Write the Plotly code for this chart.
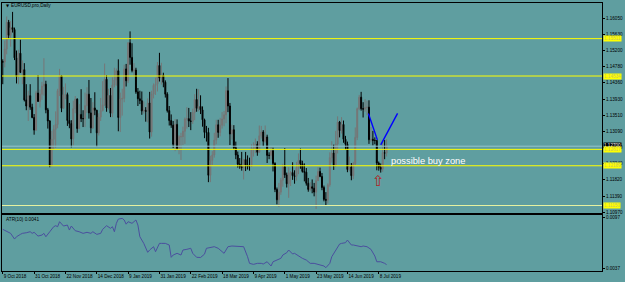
import pandas as pd
import plotly.graph_objects as go

# ---------------- data ----------------
dates = [d for d in pd.bdate_range("2018-10-09", "2019-07-12")
         if d.strftime("%m-%d") not in ("12-25", "01-01")]

opens = [1.1491,1.1490,1.1524,1.1594,1.1560,1.1580,1.1575,1.1501,1.1452,1.1513,1.1463,1.1470,1.1391,1.1375,1.1402,1.1372,1.1345,
         1.1312,1.1409,1.1387,1.1406,1.1427,1.1432,1.1365,1.1336,1.1220,1.1288,1.1314,1.1327,1.1415,1.1454,1.1369,1.1405,1.1405,1.1337,1.1329,1.1289,1.1368,1.1393,
         1.1316,1.1353,1.1342,1.1342,1.1376,1.1406,1.1357,1.1318,1.1370,1.1364,1.1305,1.1346,1.1363,1.1378,1.1445,1.1370,1.1403,1.1356,1.1430,1.1443,
         1.1467,1.1345,1.1393,1.1395,1.1472,1.1441,1.1540,1.1502,1.1468,1.1469,1.1412,1.1394,1.1389,1.1362,1.1364,1.1361,1.1383,1.1307,1.1406,1.1429,1.1432,1.1481,
         1.1448,1.1455,1.1437,1.1406,1.1363,1.1337,1.1325,1.1275,1.1327,1.1264,1.1295,1.1295,1.1309,1.1341,1.1342,1.1336,1.1335,1.1358,1.1392,1.1369,
         1.1374,1.1365,1.1339,1.1306,1.1306,1.1194,1.1233,1.1247,1.1286,1.1326,1.1306,1.1325,1.1341,1.1352,1.1415,1.1375,1.1302,1.1313,1.1266,1.1247,1.1223,
         1.1217,1.1214,1.1235,1.1221,1.1217,1.1217,1.1263,1.1264,1.1275,1.1254,1.1297,1.1307,1.1283,1.1294,1.1246,1.1246,1.1258,1.1225,1.1157,1.1130,1.1150,1.1181,
         1.1216,1.1195,1.1172,1.1200,1.1201,1.1193,1.1191,1.1214,1.1233,1.1224,1.1204,1.1202,1.1173,1.1157,1.1164,1.1160,1.1150,1.1180,1.1204,1.1191,1.1162,1.1131,1.1129,
         1.1169,1.1240,1.1252,1.1221,1.1276,1.1333,1.1311,1.1327,1.1288,1.1275,1.1209,1.1216,1.1193,1.1224,1.1293,1.1368,1.1398,1.1368,1.1367,1.1371,
         1.1372,1.1287,1.1288,1.1285,1.1285,1.1226,1.1215,1.1210,1.1253,1.1252]
highs = [1.1497,1.1546,1.1609,1.1600,1.1597,1.1621,1.1580,1.1520,1.1522,1.1548,1.1494,1.1487,1.1432,1.1415,1.1432,1.1381,1.1354,
         1.1415,1.1456,1.1418,1.1438,1.1500,1.1441,1.1370,1.1338,1.1310,1.1325,1.1361,1.1420,1.1472,1.1454,1.1425,1.1434,1.1410,1.1383,1.1338,1.1389,1.1401,1.1395,
         1.1380,1.1419,1.1364,1.1410,1.1424,1.1443,1.1396,1.1385,1.1411,1.1365,1.1356,1.1396,1.1440,1.1486,1.1456,1.1420,1.1422,1.1450,1.1475,1.1473,
         1.1497,1.1410,1.1420,1.1483,1.1485,1.1542,1.1570,1.1539,1.1487,1.1475,1.1422,1.1415,1.1413,1.1387,1.1372,1.1395,1.1412,1.1415,1.1434,1.1449,1.1490,1.1514,
         1.1488,1.1462,1.1442,1.1411,1.1375,1.1353,1.1336,1.1341,1.1340,1.1299,1.1305,1.1321,1.1345,1.1372,1.1370,1.1359,1.1368,1.1406,1.1420,1.1419,
         1.1403,1.1374,1.1342,1.1323,1.1318,1.1245,1.1257,1.1305,1.1339,1.1339,1.1344,1.1359,1.1362,1.1426,1.1448,1.1383,1.1326,1.1325,1.1282,1.1256,1.1239,
         1.1255,1.1237,1.1255,1.1246,1.1240,1.1275,1.1280,1.1290,1.1283,1.1324,1.1323,1.1312,1.1324,1.1300,1.1254,1.1268,1.1266,1.1228,1.1162,1.1174,1.1187,1.1224,
         1.1265,1.1201,1.1215,1.1205,1.1228,1.1207,1.1229,1.1251,1.1264,1.1232,1.1225,1.1213,1.1187,1.1176,1.1183,1.1174,1.1193,1.1215,1.1214,1.1200,1.1167,1.1150,1.1173,
         1.1254,1.1283,1.1274,1.1310,1.1348,1.1336,1.1346,1.1337,1.1297,1.1282,1.1243,1.1226,1.1229,1.1319,1.1371,1.1404,1.1412,1.1385,1.1393,1.1389,
         1.1390,1.1320,1.1310,1.1293,1.1286,1.1230,1.1225,1.1285,1.1286,1.1288]
lows = [1.1432,1.1476,1.1510,1.1550,1.1530,1.1567,1.1495,1.1434,1.1432,1.1461,1.1432,1.1387,1.1364,1.1336,1.1365,1.1343,1.1300,
        1.1310,1.1386,1.1371,1.1391,1.1402,1.1356,1.1316,1.1215,1.1217,1.1260,1.1266,1.1317,1.1401,1.1359,1.1369,1.1393,1.1323,1.1317,1.1267,1.1272,1.1356,1.1305,
        1.1316,1.1333,1.1320,1.1320,1.1357,1.1342,1.1304,1.1315,1.1351,1.1269,1.1298,1.1336,1.1361,1.1375,1.1360,1.1366,1.1346,1.1346,1.1424,1.1428,
        1.1309,1.1307,1.1350,1.1385,1.1426,1.1435,1.1483,1.1463,1.1452,1.1407,1.1375,1.1380,1.1352,1.1355,1.1334,1.1332,1.1290,1.1295,1.1395,1.1404,1.1413,1.1439,
        1.1431,1.1424,1.1397,1.1358,1.1324,1.1318,1.1265,1.1257,1.1260,1.1249,1.1234,1.1273,1.1276,1.1316,1.1320,1.1312,1.1328,1.1338,1.1360,1.1361,
        1.1354,1.1321,1.1291,1.1282,1.1176,1.1176,1.1221,1.1240,1.1275,1.1292,1.1296,1.1316,1.1322,1.1330,1.1359,1.1273,1.1287,1.1261,1.1236,1.1214,1.1211,
        1.1206,1.1183,1.1205,1.1209,1.1206,1.1216,1.1243,1.1252,1.1245,1.1253,1.1290,1.1270,1.1279,1.1226,1.1236,1.1235,1.1204,1.1150,1.1118,1.1111,1.1143,1.1164,
        1.1187,1.1162,1.1135,1.1166,1.1182,1.1172,1.1180,1.1197,1.1211,1.1201,1.1178,1.1167,1.1151,1.1152,1.1147,1.1139,1.1106,1.1179,1.1189,1.1155,1.1126,1.1116,1.1120,
        1.1164,1.1227,1.1208,1.1216,1.1251,1.1293,1.1303,1.1279,1.1260,1.1202,1.1204,1.1181,1.1184,1.1220,1.1286,1.1364,1.1363,1.1345,1.1360,1.1351,
        1.1276,1.1280,1.1272,1.1275,1.1207,1.1206,1.1201,1.1203,1.1236,1.1243]
closes = [1.1490,1.1524,1.1594,1.1560,1.1580,1.1575,1.1501,1.1452,1.1513,1.1463,1.1470,1.1391,1.1375,1.1402,1.1372,1.1345,1.1312,
          1.1409,1.1387,1.1406,1.1427,1.1432,1.1365,1.1336,1.1220,1.1288,1.1314,1.1327,1.1415,1.1454,1.1369,1.1405,1.1405,1.1337,1.1329,1.1289,1.1368,1.1393,1.1316,
          1.1353,1.1342,1.1342,1.1376,1.1406,1.1357,1.1318,1.1370,1.1364,1.1305,1.1346,1.1363,1.1378,1.1445,1.1370,1.1403,1.1356,1.1430,1.1443,1.1467,
          1.1345,1.1393,1.1395,1.1472,1.1441,1.1540,1.1502,1.1468,1.1469,1.1412,1.1394,1.1389,1.1362,1.1364,1.1361,1.1383,1.1307,1.1406,1.1429,1.1432,1.1481,1.1448,
          1.1455,1.1437,1.1406,1.1363,1.1337,1.1325,1.1275,1.1327,1.1264,1.1295,1.1295,1.1309,1.1341,1.1342,1.1336,1.1335,1.1358,1.1392,1.1369,1.1374,
          1.1365,1.1339,1.1306,1.1306,1.1194,1.1233,1.1247,1.1286,1.1326,1.1306,1.1325,1.1341,1.1352,1.1415,1.1375,1.1302,1.1313,1.1266,1.1247,1.1223,1.1217,
          1.1214,1.1235,1.1221,1.1217,1.1217,1.1263,1.1264,1.1275,1.1254,1.1297,1.1307,1.1283,1.1294,1.1246,1.1246,1.1258,1.1225,1.1157,1.1130,1.1150,1.1181,1.1216,
          1.1195,1.1172,1.1200,1.1201,1.1193,1.1191,1.1214,1.1233,1.1224,1.1204,1.1202,1.1173,1.1157,1.1164,1.1160,1.1150,1.1180,1.1204,1.1191,1.1162,1.1131,1.1129,1.1169,
          1.1240,1.1252,1.1221,1.1276,1.1333,1.1311,1.1327,1.1288,1.1275,1.1209,1.1216,1.1193,1.1224,1.1293,1.1368,1.1398,1.1368,1.1367,1.1371,1.1372,
          1.1287,1.1288,1.1285,1.1285,1.1226,1.1215,1.1210,1.1253,1.1252,1.1270]

atr_idx = [0,2,4,6,7,9,10,12,14,15,16,18,20,21,22,24,26,27,28,29,31,33,34,35,37,39,41,43,45,46,48,50,51,53,55,56,57,58,59,
           61,62,63,64,66,68,69,70,72,74,75,77,78,80,81,83,85,86,87,89,91,92,94,96,97,99,101,103,104,106,108,110,112,113,114,
           115,117,120,123,125,126,128,130,132,133,135,137,138,140,142,143,145,146,147,148,149,151,153,155,157,159,161,162,164,
           165,167,168,170,172,173,175,176,178,179,181,183,184,186,188,190,191,193,195,196]
atr_val = [0.00825,0.00797,0.00778,0.00711,0.00738,0.00766,0.00778,0.00785,0.00797,0.00778,0.00790,0.00746,0.00758,0.00778,
           0.00738,0.00797,0.00856,0.00868,0.00856,0.00915,0.00864,0.00876,0.00817,0.00864,0.00809,0.00797,0.00778,0.00790,
           0.00778,0.00797,0.00766,0.00778,0.00825,0.00868,0.00837,0.00856,0.00797,0.00896,0.00946,0.00954,0.00935,0.00886,
           0.00915,0.00896,0.00935,0.00876,0.00738,0.00660,0.00555,0.00582,0.00621,0.00562,0.00660,0.00660,0.00660,0.00641,
           0.00496,0.00523,0.00543,0.00523,0.00582,0.00590,0.00602,0.00543,0.00496,0.00494,0.00533,0.00602,0.00612,0.00621,
           0.00602,0.00562,0.00543,0.00582,0.00621,0.00629,0.00621,0.00621,0.00503,0.00425,0.00413,0.00425,0.00425,0.00417,
           0.00444,0.00394,0.00444,0.00464,0.00484,0.00523,0.00550,0.00582,0.00562,0.00535,0.00543,0.00511,0.00484,0.00464,
           0.00425,0.00425,0.00413,0.00405,0.00394,0.00374,0.00425,0.00503,0.00582,0.00652,0.00660,0.00668,0.00699,0.00641,
           0.00641,0.00629,0.00621,0.00629,0.00621,0.00590,0.00511,0.00444,0.00444,0.00425,0.00410]

price_ticks = [1.16050,1.15630,1.15200,1.14780,1.14360,1.13930,1.13510,1.13090,1.12670,1.12240,1.11820,1.11390,1.10970]
atr_ticks = [0.0097, 0.0037]
level_prices = [1.15511, 1.14534, 1.12617, 1.12189, 1.11150]
level_colors = ["#ffff00", "#ffff00", "#ffff00", "#ffff00", "#e6f2a0"]
bid_price = 1.12700
trend_x = [[186.7, 191.3], [193.0, 201.6]]
trend_y = [[1.13557, 1.12865], [1.12735, 1.13557]]
label_tick_step = 16

# ---------------- figure ----------------
BG = "#5F9EA0"
FONT = "Liberation Sans, Arial, DejaVu Sans"
idx = list(range(len(closes)))
tick_idx = idx[::label_tick_step]
tick_txt = [dates[i].strftime("%-d %b %Y") for i in tick_idx]

fig = go.Figure()
fig.add_trace(go.Candlestick(
    x=idx, open=opens, high=highs, low=lows, close=closes,
    increasing=dict(line=dict(color="#767676", width=1), fillcolor="#767676"),
    decreasing=dict(line=dict(color="#000000", width=1), fillcolor="#000000"),
    whiskerwidth=0, xaxis="x", yaxis="y", hoverinfo="skip"))
fig.add_trace(go.Scatter(x=atr_idx, y=atr_val, mode="lines",
                         line=dict(color="#4b4f9e", width=1),
                         xaxis="x2", yaxis="y2", hoverinfo="skip"))
for tx, ty in zip(trend_x, trend_y):
    fig.add_trace(go.Scatter(x=tx, y=ty, mode="lines",
                             line=dict(color="#0000ff", width=1.4),
                             xaxis="x", yaxis="y", hoverinfo="skip"))

xr = [-0.4, 306.0]
axis_common = dict(showline=True, mirror=True, linecolor="black", linewidth=1,
                   showgrid=False, zeroline=False, tickcolor="black", automargin=False,
                   tickfont=dict(size=4.6, color="black", family=FONT))
fig.update_layout(
    width=625, height=282, margin=dict(l=2, r=23, t=3, b=11),
    paper_bgcolor=BG, plot_bgcolor=BG, showlegend=False,
    font=dict(family=FONT, color="black"),
    xaxis=dict(domain=[0, 1], range=xr, anchor="y", showticklabels=False, ticks="",
               rangeslider=dict(visible=False), **axis_common),
    yaxis=dict(domain=[0.2164, 1], range=[1.10954, 1.16442], side="right",
               tickvals=price_ticks, ticktext=[f"{v:.5f}" for v in price_ticks],
               ticks="outside", ticklen=2, **axis_common),
    xaxis2=dict(domain=[0, 1], range=xr, anchor="y2", tickvals=tick_idx, ticktext=tick_txt,
                tickangle=0, ticks="outside", ticklen=2, ticklabelposition="outside right",
                **axis_common),
    yaxis2=dict(domain=[0, 0.209], range=[0.00335, 0.00994], side="right",
                tickvals=atr_ticks, ticktext=[f"{v:.4f}" for v in atr_ticks],
                ticks="outside", ticklen=2, **axis_common),
)

# bid line
fig.add_shape(type="line", xref="paper", x0=0, x1=1, yref="y", y0=bid_price, y1=bid_price,
              line=dict(color="#98c4cc", width=1))
# horizontal levels
for p, c in zip(level_prices, level_colors):
    fig.add_shape(type="line", xref="paper", x0=0, x1=1, yref="y", y0=p, y1=p,
                  line=dict(color=c, width=1))

# price labels at right
fig.add_annotation(xref="paper", x=1, xshift=1, xanchor="left", yref="y", y=bid_price, yshift=1,
                   text=f"{bid_price:.5f}", showarrow=False, bgcolor="black", borderpad=0,
                   font=dict(size=4.6, color="white", family=FONT))
for p in level_prices:
    fig.add_annotation(xref="paper", x=1, xshift=1, xanchor="left", yref="y", y=p,
                       text=f"{p:.5f}", showarrow=False, bgcolor="#ffff00", borderpad=0,
                       font=dict(size=4.6, color="#c8c860", family=FONT))

# titles
fig.add_annotation(xref="paper", yref="paper", x=0.0025, y=0.9925, xanchor="left", yanchor="middle",
                   text="▼", showarrow=False, font=dict(size=4, color="black", family="DejaVu Sans"))
fig.add_annotation(xref="paper", yref="paper", x=0.0117, y=0.9925, xanchor="left", yanchor="middle",
                   text="EURUSD,pro,Daily", showarrow=False, font=dict(size=4.7, color="black", family=FONT))
fig.add_annotation(xref="paper", yref="paper", x=0.004, y=0.194, xanchor="left", yanchor="middle",
                   text="ATR(10) 0.0041", showarrow=False, font=dict(size=4.7, color="black", family=FONT))

# chart notes
fig.add_annotation(xref="x", yref="y", x=197.2, y=1.12313, xanchor="left", yanchor="middle",
                   text="possible buy zone", showarrow=False,
                   font=dict(size=9.3, color="white", family=FONT))
fig.add_annotation(xref="x", yref="y", x=192.1, y=1.11790, xanchor="center", yanchor="middle",
                   text="⇧", showarrow=False,
                   font=dict(size=15, color="#b22222", family="DejaVu Sans"))

fig.write_html("out.html")
